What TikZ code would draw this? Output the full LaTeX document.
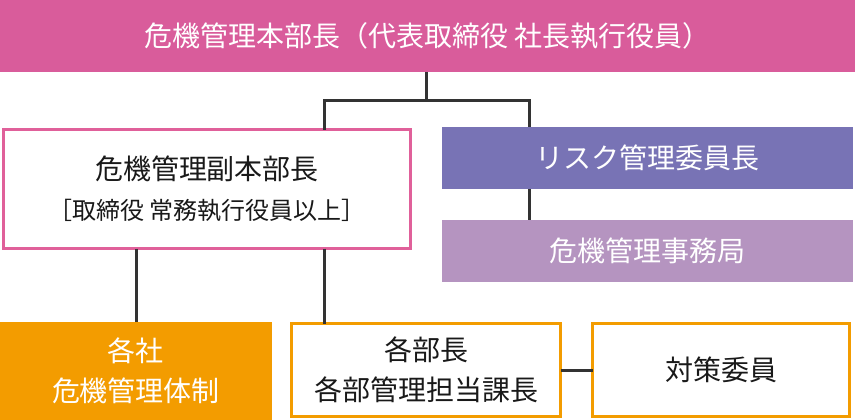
\documentclass[tikz,border=0pt]{standalone}
\usepackage{fontspec}
\setmainfont{Noto Sans CJK JP}
\usepackage{tikz}
\definecolor{honbu}{HTML}{D95C9B}
\definecolor{fuku}{HTML}{E0609A}
\definecolor{risk}{HTML}{7873B5}
\definecolor{jimu}{HTML}{B594C0}
\definecolor{kaku}{HTML}{F39C00}
\definecolor{sen}{HTML}{333333}
\tikzstyle{box} = [rectangle, inner sep=0pt, outer sep=0pt, align=center, font=\fontsize{28pt}{40pt}\selectfont]
\tikzstyle{fillbox} = [box, text=white]
\tikzstyle{linebox} = [box, draw=kaku, line width=3pt, fill=white, text=black!90]
\tikzstyle{link} = [draw=sen, line width=3pt]
\newcommand{\sub}[1]{{\fontsize{24pt}{40pt}\selectfont #1}}

\begin{document}
\begin{tikzpicture}[x=1pt, y=-1pt]
			\useasboundingbox (0,0) rectangle (855,420);
			\node (top) [fillbox, fill=honbu, minimum width=855pt, minimum height=72pt] at (427.5,36) {危機管理本部長（代表取締役 社長執行役員）};
			\node (vice) [box, draw=fuku, line width=3pt, fill=white, text=black!90, minimum width=407pt, minimum height=119pt] at (207,189) {危機管理副本部長\\\sub{［取締役 常務執行役員以上］}};
			\node (risk) [fillbox, fill=risk, minimum width=411pt, minimum height=62pt] at (647.5,158) {リスク管理委員長};
			\node (jimu) [fillbox, fill=jimu, minimum width=411pt, minimum height=62pt] at (647.5,251) {危機管理事務局};
			\node (kakusha) [fillbox, fill=kaku, minimum width=272pt, minimum height=98pt] at (136,371) {各社\\危機管理体制};
			\node (bucho) [linebox, minimum width=269pt, minimum height=93pt] at (426,370) {各部長\\各部管理担当課長};
			\node (taisaku) [linebox, minimum width=257pt, minimum height=93pt] at (721,370) {対策委員};
			\coordinate (jn) at (426,101);
			\coordinate (jl) at (324,101);
			\coordinate (jr) at (529,101);
			\draw[link] (top.south -| jn) -- (jn);
			\draw[link] (vice.north -| jl) -- (jl) -- (jr) -- (risk.north -| jr);
			\draw[link] (risk.south -| jr) -- (jimu.north -| jr);
			\draw[link] (vice.south -| kakusha.north) -- (kakusha.north);
			\draw[link] (vice.south -| jl) -- (bucho.north -| jl);
			\draw[link] (bucho.east) -- (taisaku.west);
		\end{tikzpicture}
\end{document}
